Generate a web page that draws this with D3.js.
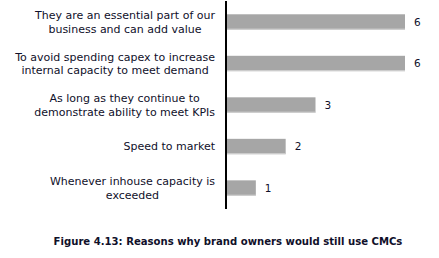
<!DOCTYPE html>
<html>
<head>
<meta charset="utf-8">
<script src="https://cdn.jsdelivr.net/npm/d3@7"></script>
<style>
  html, body { margin: 0; padding: 0; background: #fff; }
  svg text { font-family: "DejaVu Sans", Verdana, sans-serif; fill: #10102a; }
</style>
</head>
<body>
<svg id="chart" width="439" height="258"></svg>
<script>
// Reasons, top to bottom (each entry is split into its display lines)
const categories = [
  ["They are an essential part of our", "business and can add value"],
  ["To avoid spending capex to increase", "internal capacity to meet demand"],
  ["As long as they continue to", "demonstrate ability to meet KPIs"],
  ["Speed to market"],
  ["Whenever inhouse capacity is", "exceeded"]
];
const counts = [6, 6, 3, 2, 1];
const caption = "Figure 4.13: Reasons why brand owners would still use CMCs";

const svg = d3.select("#chart");
const axisX = 226;
const plotTop = 1, plotBottom = 209;

const y = d3.scaleBand()
  .domain(d3.range(categories.length))
  .range([plotTop, plotBottom])
  .paddingInner(0.63)
  .paddingOuter(0.32);

const x = d3.scaleLinear()
  .domain([0, 6])
  .range([axisX, axisX + 179]);

// bars
const bars = svg.append("g");
bars.selectAll("rect.bar")
  .data(counts)
  .join("rect")
  .attr("class", "bar")
  .attr("x", x(0))
  .attr("y", (d, i) => y(i))
  .attr("width", d => x(d) - x(0))
  .attr("height", y.bandwidth())
  .attr("fill", "#a6a6a6");

// light lower edge on each bar
bars.selectAll("line.edge")
  .data(counts)
  .join("line")
  .attr("class", "edge")
  .attr("x1", x(0))
  .attr("x2", d => x(d))
  .attr("y1", (d, i) => y(i) + y.bandwidth() - 0.5)
  .attr("y2", (d, i) => y(i) + y.bandwidth() - 0.5)
  .attr("stroke", "#d4d4d4")
  .attr("stroke-width", 1);

// value labels
svg.append("g").selectAll("text")
  .data(counts)
  .join("text")
  .attr("x", d => x(d) + 9)
  .attr("y", (d, i) => y(i) + y.bandwidth() / 2)
  .attr("dy", "0.35em")
  .attr("font-size", 10.5)
  .text(d => d);

// category labels, right-aligned against the axis
const lineH = 13.5;
const lab = svg.append("g").selectAll("text")
  .data(categories)
  .join("text")
  .attr("text-anchor", "middle")
  .attr("font-size", 11);

lab.each(function(lines, i) {
  const t = d3.select(this);
  const cy = y(i) + y.bandwidth() / 2;
  const y0 = cy - (lines.length - 1) * lineH / 2;
  lines.forEach((s, k) => {
    t.append("tspan")
      .attr("y", y0 + k * lineH)
      .attr("dy", "0.35em")
      .text(s);
  });
});

// centre each label block so that its widest line ends at x = 215
lab.each(function() {
  const t = d3.select(this);
  const widths = [];
  t.selectAll("tspan").each(function() { widths.push(this.getComputedTextLength()); });
  const cx = 215 - d3.max(widths) / 2;
  t.selectAll("tspan").attr("x", cx);
});

// vertical category axis
svg.append("line")
  .attr("x1", axisX).attr("x2", axisX)
  .attr("y1", plotTop).attr("y2", plotBottom)
  .attr("stroke", "#000")
  .attr("stroke-width", 2);

// caption
svg.append("text")
  .attr("x", 228)
  .attr("y", 241)
  .attr("dy", "0.35em")
  .attr("text-anchor", "middle")
  .attr("font-size", 10.1)
  .attr("font-weight", "bold")
  .text(caption);
</script>
</body>
</html>
